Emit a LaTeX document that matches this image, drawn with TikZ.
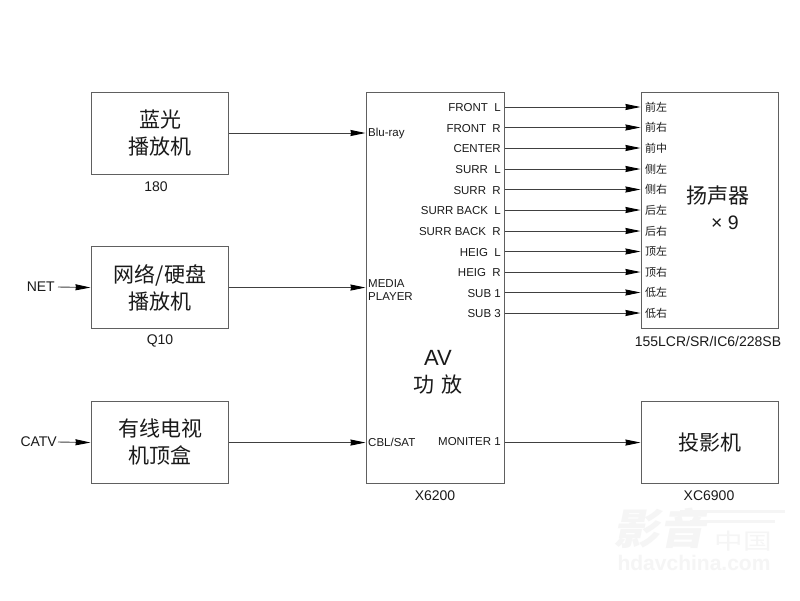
\documentclass[tikz,border=0pt]{standalone}
\usepackage{fontspec}
\setmainfont{Liberation Sans}
\newfontfamily\cjk{Noto Sans CJK SC}
\usetikzlibrary{arrows.meta}
\definecolor{boxline}{HTML}{606060}
\definecolor{wireline}{HTML}{404040}
\definecolor{txt}{HTML}{1A1A1A}
\definecolor{wmark}{HTML}{F5F5F5}
\tikzset{
  x=1pt,y=-1pt,
  block/.style={draw=boxline,line width=1.1pt,fill=white,inner sep=0pt,anchor=north west},
  wire/.style={draw=wireline,line width=0.9pt,-{Stealth[length=15pt,width=6pt,inset=0.5pt,color=black]},shorten >=0.5pt},
  lab/.style={font=\fontsize{11.5}{13.5}\selectfont,text=txt,inner sep=0pt,yshift=-1pt},
  capt/.style={font=\fontsize{14}{16}\selectfont,text=txt,inner sep=0pt},
  portr/.style={lab,anchor=east},
  portl/.style={lab,anchor=west},
  big/.style={font=\cjk\fontsize{21}{27}\selectfont,text=txt,inner sep=0pt,align=center},
  small/.style={font=\cjk\fontsize{11}{12}\selectfont,text=txt,inner sep=0pt,anchor=west},
}
\begin{document}
\begin{tikzpicture}
\useasboundingbox[fill=white] (0,0) rectangle (800,600);
% watermark
\fill[wmark] (680,510) rectangle (785,513);
\fill[wmark] (690,520) rectangle (775,523);
\node[font=\cjk\bfseries\fontsize{42}{42}\selectfont,text=wmark,inner sep=0pt,xslant=0.2,xscale=1.1] (wm1) at (663,528) {影音};
\node[font=\cjk\fontsize{22}{22}\selectfont,text=wmark,inner sep=0pt,xscale=1.3] (wm2) at (743,541) {中国};
\node[font=\bfseries\fontsize{21}{21}\selectfont,text=wmark,inner sep=0pt] (wm3) at (694,563) {hdavchina.com};
% blocks
\node[block,minimum width=137pt,minimum height=82pt] (bd) at (91,92) {};
\node[block,minimum width=137pt,minimum height=82pt] (net) at (91,246) {};
\node[block,minimum width=137pt,minimum height=82pt] (stb) at (91,401) {};
\node[block,minimum width=138pt,minimum height=391pt] (av) at (366,92) {};
\node[block,minimum width=137pt,minimum height=236pt] (spk) at (641,92) {};
\node[block,minimum width=137pt,minimum height=82pt] (proj) at (641,401) {};
% block texts
\node[big] (t1) at (160,133.5) {蓝光\\播放机};
\node[big] (t2) at (160,287.5) {网络/硬盘\\播放机};
\node[big] (t3) at (160,442.5) {有线电视\\机顶盒};
\node[big] (t4) at (710,443) {投影机};
\node[big] (t5) at (718,208) {扬声器\\[-1pt]\hspace*{14pt}{\fontspec{Liberation Sans}\fontsize{19.5}{27}\selectfont × 9}};
\node[big] (t6) at (438,372.5) {{\fontspec{Liberation Sans}\fontsize{22}{27}\selectfont AV}\\功\hspace{7pt}放};
% captions
\node[capt] (c1) at (156,187) {180};
\node[capt] (c2) at (160,341) {Q10};
\node[capt] (c4) at (435,496) {X6200};
\node[capt] (c5) at (708,341) {155LCR/SR/IC6/228SB};
\node[capt] (c6) at (709,496) {XC6900};
\node[capt,anchor=east] (inet) at (55,287) {NET};
\node[capt,anchor=east] (icatv) at (57,441.5) {CATV};
\coordinate (a1) at (58,287);
\coordinate (a2) at (58,442);
\coordinate (r1) at (0,133);
% inputs
\node[portl] (p1) at (368,133) {Blu-ray};
\node[portl,align=left] (p2) at (368,289) {MEDIA\\PLAYER};
\node[portl] (p3) at (368,441) {CBL/SAT};
\node[portr] (p4) at (501,441) {MONITER 1};
\draw[wire] (bd.east |- r1) -- (av.west |- r1);
\draw[wire] (net.east) -- (av.west |- net.east);
\draw[wire] (stb.east) -- (av.west |- stb.east);
\draw[wire] (av.east |- proj.west) -- (proj.west);
\draw[wire] (a1) -- (net.west);
\draw[wire] (a2) -- (stb.west);
% channels
\foreach \i/\y/\a/\b in {
 1/107/FRONT\ \ L/前左,
 2/127.5/FRONT\ \ R/前右,
 3/148/CENTER/前中,
 4/169/SURR\ \ L/侧左,
 5/189.5/SURR\ \ R/侧右,
 6/210/SURR BACK\ \ L/后左,
 7/231/SURR BACK\ \ R/后右,
 8/251.5/HEIG\ \ L/顶左,
 9/272/HEIG\ \ R/顶右,
 10/292.5/SUB 1/低左,
 11/313/SUB 3/低右}{
  \coordinate (w\i) at (0,\y);
  \node[portr] (o\i) at (501,\y) {\a};
  \node[small] (s\i) at (645,\y) {\b};
  \draw[wire] (av.east |- w\i) -- (spk.west |- w\i);
}
\end{tikzpicture}
\end{document}
